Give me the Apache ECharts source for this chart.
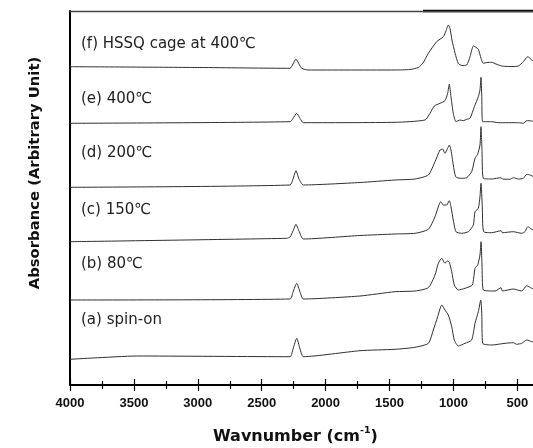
<!DOCTYPE html>
<html>
<head>
<meta charset="utf-8">
<script src="https://cdn.jsdelivr.net/npm/echarts@6/dist/echarts.min.js"></script>
<style>
html,body{margin:0;padding:0;background:#fff;}
#chart{width:533px;height:448px;}
</style>
</head>
<body>
<div id="chart"></div>
<script>
// Wavenumber (cm-1) and stacked absorbance (arbitrary units) for each spectrum
const wnA = [4000,3818,3478,2278,2255,2226,2200,2174,1731,1457,1300,1196,1157,1123,1091,1066,1040,1013,993,962,909,857,831,805,786,778,771,700,596,531,505,466,426,387,369];
const absA = [25.7,27,29,28.3,36,46.7,36,28.3,34.3,35.7,37.7,41.7,55,68.3,80,75,70,58.3,45,39,41.7,45,61.7,73.3,85,71.7,41.7,40,41.7,42.3,40.7,41.7,45,43.3,43];

const wnB = [4000,2278,2255,2226,2200,2174,1731,1457,1300,1196,1144,1118,1091,1066,1048,1032,1013,993,962,909,852,831,810,792,784,776,766,674,627,617,531,466,426,387,369];
const absB = [85,86,93,101.7,93,86,89,93.3,94,97.3,110,121.7,126.7,121.7,124,122.7,113.3,100,95,96.7,100,116.7,120,130,143.3,120,95,94,97.3,94,96,94,99.3,96.7,96];

const wnC = [4000,2304,2278,2255,2232,2208,2174,1731,1457,1300,1196,1144,1099,1079,1053,1032,1019,1001,980,935,883,844,831,805,792,784,774,763,700,627,617,531,466,440,418,387,369];
const absC = [143.3,146.7,148,154,160.7,154,146,149.5,151,151.7,155.7,168.3,183.3,180,180,184.3,178.3,165,153.3,151.7,153.3,160,173.3,176.7,188.3,201.7,178.3,153.3,152.3,154.3,152.3,153.3,151.7,153.3,158.3,155.7,155];

const wnD = [4000,2278,2255,2232,2208,2174,1731,1457,1300,1196,1144,1105,1084,1066,1045,1032,1019,1001,982,948,896,857,831,810,792,784,776,766,700,627,617,557,531,492,453,426,400,375];
const absD = [197.7,200,206,214.3,206,200,202.5,205,206,210,223.3,235,236,231.7,236.7,240,235,220,208.3,206.7,207.3,213.3,226.7,230.7,240,258.3,233.3,206.7,206,207.3,206,205.7,207.3,206,206.7,210.7,210,208.3];

const wnE = [4000,2278,2255,2226,2200,2174,1457,1222,1183,1149,1105,1066,1045,1032,1019,1001,980,948,922,896,870,836,805,792,784,778,771,739,700,649,492,453,426,387,369];
const absE = [261.7,263.3,266.5,271.7,266.5,262.3,262.7,265,271.7,279,281.7,284.3,291.7,301,288.3,271.7,263.3,265,264.3,265.7,266.7,278.3,288.3,295,307.7,288.3,263.3,263.3,263.3,262.3,262.3,261.7,264.3,264,263];

const wnF = [4000,2983,2278,2255,2232,2208,2187,2138,1457,1340,1275,1238,1196,1131,1079,1058,1040,1027,1011,987,962,933,896,870,844,827,805,784,766,737,700,667,622,557,492,453,418,387,369];
const absF = [318.3,317.5,316.7,321,326,321,316.7,315,315,315.5,317.5,322,331.7,343.3,348.3,354,360,356.7,345,331.7,321.7,319.5,320,328.3,339,338,335.7,326.7,321.7,322.5,322.7,321,319,318.5,319,323.3,328.3,325,324];

const seriesNames = ['(a) spin-on','(b) 80\u2103','(c) 150\u2103','(d) 200\u2103','(e) 400\u2103','(f) HSSQ cage at 400\u2103'];
const xTicks = [4000,3500,3000,2500,2000,1500,1000,500];

const spectra = [[wnA,absA],[wnB,absB],[wnC,absC],[wnD,absD],[wnE,absE],[wnF,absF]];
const labelTops = [322,266,212,155,101,46];

const chart = echarts.init(document.getElementById('chart'), null, {renderer:'canvas'});
const FONT = '"Liberation Sans", Arial, "Noto Sans CJK JP", sans-serif';
const WIDE = '"DejaVu Sans", "Liberation Sans", sans-serif';

const series = spectra.map((s,i)=>({
  name: seriesNames[i],
  type: 'line',
  xAxisIndex: 0,
  data: s[0].map((w,j)=>[w, s[1][j]]),
  showSymbol: false,
  smooth: 0.2,
  clip: true,
  lineStyle: {color:'#303030', width:1},
  silent: true,
  animation: false
}));

const commonX = {
  type:'value', min:0, max:4000, interval:500, inverse:true,
  position:'bottom', splitLine:{show:false},
};

chart.setOption({
  animation:false,
  backgroundColor:'#fff',
  grid:{left:70, top:11, width:511.2, height:374, show:false, containLabel:false, outerBoundsMode:'none'},
  xAxis:[
    Object.assign({}, commonX, {
      axisLine:{show:true, onZero:false, lineStyle:{color:'#000', width:2}},
      axisTick:{show:true, inside:false, length:6, lineStyle:{color:'#000', width:1.2}},
      minorTick:{show:true, splitNumber:2, length:4, lineStyle:{color:'#000', width:1.2}},
      axisLabel:{show:true, margin:12, color:'#111', fontSize:13, fontWeight:'bold', fontFamily:FONT,
        showMaxLabel:true, showMinLabel:true,
        formatter:(v)=> xTicks.indexOf(v) >= 0 ? String(v) : ''}
    }),
    Object.assign({}, commonX, {
      axisLine:{show:false, onZero:false},
      axisTick:{show:true, inside:true, length:6, lineStyle:{color:'#000', width:1.2}},
      minorTick:{show:true, splitNumber:2, length:4, lineStyle:{color:'#000', width:1.2}},
      axisLabel:{show:false}
    }),
    Object.assign({}, commonX, {
      position:'top',
      axisLine:{show:true, onZero:false, lineStyle:{color:'#444', width:1.3}},
      axisTick:{show:false}, minorTick:{show:false}, axisLabel:{show:false}
    })
  ],
  yAxis:{
    type:'value', min:0, max:374, position:'left',
    axisLine:{show:true, onZero:false, lineStyle:{color:'#000', width:2}},
    axisTick:{show:false}, axisLabel:{show:false}, splitLine:{show:false},
    name:'Absorbance (Arbitrary Unit)', nameLocation:'middle', nameGap:27, nameRotate:90,
    nameTextStyle:{color:'#111', fontSize:14.8, fontWeight:'bold', fontFamily:WIDE, padding:[0,0,0,50]}
  },
  series: series,
  graphic: [
    {type:'line', shape:{x1:423, y1:11, x2:533, y2:11}, style:{stroke:'#000', lineWidth:2.5}, silent:true},
    {type:'text', left:213, top:426, style:{
      text:'{t|Wavnumber (cm}{s|-1}{t|)}',
      rich:{
        t:{fontSize:16, fontWeight:'bold', fontFamily:WIDE, fill:'#111', verticalAlign:'bottom'},
        s:{fontSize:9.5, fontWeight:'bold', fontFamily:WIDE, fill:'#111', verticalAlign:'top', padding:[0,0,9,0]}
      }
    }, silent:true}
  ].concat(seriesNames.map((n,i)=>({
    type:'text', left:81, top:labelTops[i]-9,
    style:{text:n, fontSize:15, fontFamily:WIDE, fill:'#222'}, silent:true
  })))
});
</script>
</body>
</html>
